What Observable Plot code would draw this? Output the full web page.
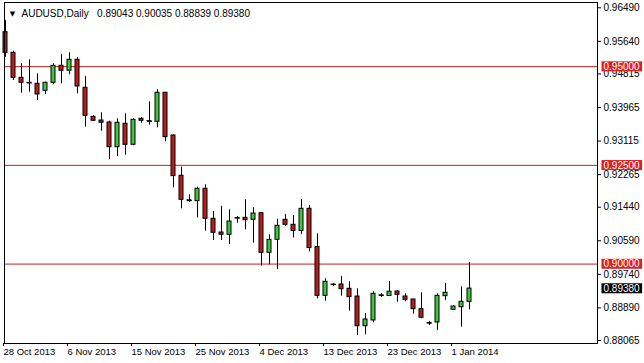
<!DOCTYPE html>
<html><head><meta charset="utf-8">
<script src="https://cdn.jsdelivr.net/npm/d3@7"></script>
<script src="https://cdn.jsdelivr.net/npm/@observablehq/plot@0.6"></script>
<style>
html,body{margin:0;padding:0;background:#fff;}
#chart svg{display:block}
</style></head><body><div id="chart"></div>
<script>
const symbol = "AUDUSD";
const period = "Daily";
const dates = ["2013-10-28","2013-10-29","2013-10-30","2013-10-31","2013-11-01","2013-11-03","2013-11-04","2013-11-05","2013-11-06","2013-11-07","2013-11-08","2013-11-10","2013-11-11","2013-11-12","2013-11-13","2013-11-14","2013-11-15","2013-11-17","2013-11-18","2013-11-19","2013-11-20","2013-11-21","2013-11-22","2013-11-24","2013-11-25","2013-11-26","2013-11-27","2013-11-28","2013-11-29","2013-12-01","2013-12-02","2013-12-03","2013-12-04","2013-12-05","2013-12-06","2013-12-08","2013-12-09","2013-12-10","2013-12-11","2013-12-12","2013-12-13","2013-12-15","2013-12-16","2013-12-17","2013-12-18","2013-12-19","2013-12-20","2013-12-22","2013-12-23","2013-12-24","2013-12-25","2013-12-26","2013-12-27","2013-12-29","2013-12-30","2013-12-31","2014-01-01","2014-01-02","2014-01-03"];
const open  = [0.95872,0.95350,0.94717,0.94591,0.94566,0.94388,0.94591,0.95021,0.94895,0.95173,0.94464,0.93730,0.93636,0.93585,0.92960,0.93553,0.93021,0.93679,0.93620,0.93603,0.94338,0.93256,0.92236,0.91615,0.91593,0.91907,0.91147,0.90800,0.90742,0.91160,0.91172,0.91122,0.91289,0.90286,0.90615,0.91122,0.90995,0.90838,0.91400,0.90433,0.89197,0.89476,0.89483,0.89374,0.89179,0.88427,0.88572,0.89200,0.89192,0.89306,0.89179,0.89103,0.88858,0.88500,0.88521,0.89187,0.88843,0.88908,0.89043];
const high  = [0.96168,0.95391,0.95072,0.95173,0.94819,0.94605,0.95072,0.95307,0.95350,0.95224,0.94750,0.93755,0.93831,0.93618,0.93679,0.93806,0.93679,0.93712,0.94110,0.94414,0.94345,0.93282,0.92454,0.91755,0.91947,0.92008,0.91332,0.91466,0.91375,0.91205,0.91628,0.91425,0.91300,0.90742,0.91137,0.91256,0.91230,0.91636,0.91484,0.90767,0.89628,0.89509,0.89686,0.89552,0.89374,0.88749,0.89298,0.89255,0.89559,0.89331,0.89248,0.89110,0.89273,0.88546,0.89248,0.89508,0.88951,0.89425,0.90035];
const low   = [0.95239,0.94649,0.94327,0.94353,0.94143,0.94295,0.94540,0.94566,0.94793,0.94312,0.93466,0.93611,0.93365,0.92641,0.92725,0.92757,0.92995,0.93568,0.93517,0.93451,0.93097,0.91932,0.91400,0.91567,0.91172,0.90833,0.90597,0.90597,0.90496,0.91035,0.90868,0.90529,0.89947,0.89982,0.89863,0.90952,0.90661,0.90749,0.90311,0.89121,0.89060,0.89433,0.89187,0.88807,0.88192,0.88209,0.88513,0.89154,0.89179,0.89035,0.89045,0.88731,0.88615,0.88445,0.88318,0.89078,0.88843,0.88402,0.88839];
const close = [0.95350,0.94717,0.94591,0.94585,0.94295,0.94591,0.95021,0.94895,0.95173,0.94497,0.93755,0.93629,0.93578,0.92960,0.93578,0.93021,0.93654,0.93629,0.93615,0.94338,0.93213,0.92226,0.91628,0.91605,0.91907,0.91147,0.90792,0.90742,0.91079,0.91165,0.91111,0.91281,0.90286,0.90615,0.90970,0.90995,0.90838,0.91400,0.90407,0.89197,0.89552,0.89480,0.89364,0.89162,0.88427,0.88597,0.89248,0.89208,0.89301,0.89222,0.89096,0.88858,0.88640,0.88505,0.89197,0.89273,0.88926,0.89045,0.89380];
const levels = [0.95000, 0.92500, 0.90000];
const yTicks = [0.96490,0.95640,0.94815,0.93965,0.93115,0.92265,0.91440,0.90590,0.89740,0.88890,0.88065];
const xTickDates = ["2013-10-28","2013-11-06","2013-11-15","2013-11-25","2013-12-04","2013-12-13","2013-12-23","2014-01-01"];
const xTickLabels = ["28 Oct 2013","6 Nov 2013","15 Nov 2013","25 Nov 2013","4 Dec 2013","13 Dec 2013","23 Dec 2013","1 Jan 2014"];

const bars = dates.map((d, i) => ({i, date: d, o: open[i], h: high[i], l: low[i], c: close[i]}));
const last = bars[bars.length - 1];
const tickIdx = xTickDates.map(d => dates.indexOf(d));
const labelOf = new Map(tickIdx.map((k, j) => [k, xTickLabels[j]]));
const RED_LINE = "#c4201e", BULL = "#3fc53f", BEAR = "#b81e1e";
const header = `${symbol},${period}\u00a0\u00a0\u00a0${[last.o, last.h, last.l, last.c].map(v => v.toFixed(5)).join(" ")}`;

const plot = Plot.plot({
  width: 644, height: 363,
  marginLeft: 4, marginRight: 47, marginTop: 2, marginBottom: 20,
  style: {fontFamily: "'Liberation Sans', Arial, sans-serif", fontSize: "10px", background: "#fff", color: "#000"},
  x: {type: "linear", domain: [-0.125, 74], axis: null},
  y: {domain: [0.87989, 0.96624], axis: null},
  marks: [
    Plot.ruleY(levels, {stroke: RED_LINE, strokeWidth: 1}),
    Plot.ruleX(bars, {x: "i", y1: "l", y2: "h", stroke: "#000"}),
    Plot.rect(bars, {x1: d => d.i - 0.25, x2: d => d.i + 0.25, y1: d => Math.min(d.o, d.c), y2: d => Math.max(d.o, d.c),
      fill: d => d.c > d.o ? BULL : BEAR, stroke: "#000", strokeWidth: 1}),
    Plot.link(bars.filter(d => Math.abs(d.o - d.c) < 0.0001), {x1: d => d.i - 0.3, x2: d => d.i + 0.3, y1: "c", y2: "c", stroke: "#000"}),
    Plot.frame({stroke: "#000"}),
    Plot.axisY(yTicks, {anchor: "right", tickSize: 3, tickPadding: 3, tickFormat: d => d.toFixed(5), label: null}),
    Plot.axisX(tickIdx, {anchor: "bottom", tickSize: 3, tickPadding: 2, tickFormat: i => labelOf.get(i), textAnchor: "start", dx: -2, fontSize: 9.5, label: null}),
    Plot.text(levels, {y: d => d, frameAnchor: "right", dx: 6, textAnchor: "start", text: d => d.toFixed(5), fill: "#fff", className: "lvl-red"}),
    Plot.text([last], {y: "c", frameAnchor: "right", dx: 6, textAnchor: "start", text: d => d.c.toFixed(5), fill: "#fff", className: "lvl-black"}),
    Plot.text([header], {frameAnchor: "top-left", dx: 17, dy: 11, lineAnchor: "middle", textAnchor: "start", fill: "#000"}),
    Plot.text(["\u25BC"], {frameAnchor: "top-left", dx: 8, dy: 11, lineAnchor: "middle", textAnchor: "middle", fill: "#000", fontSize: 7, fontFamily: "DejaVu Sans"})
  ]
});
document.getElementById("chart").append(plot);

function boxes(cls, color) {
  plot.querySelectorAll(`g.${cls} text`).forEach(t => {
    const b = t.getBBox();
    const r = document.createElementNS("http://www.w3.org/2000/svg", "rect");
    const cy = b.y + b.height / 2;
    r.setAttribute("x", b.x - 2);
    r.setAttribute("y", cy - 5);
    r.setAttribute("width", b.width + 4);
    r.setAttribute("height", 10);
    r.setAttribute("fill", color);
    const tr = t.getAttribute("transform");
    if (tr) r.setAttribute("transform", tr);
    t.parentNode.insertBefore(r, t);
  });
}
boxes("lvl-red", "#dd2020");
boxes("lvl-black", "#000");
</script></body></html>
